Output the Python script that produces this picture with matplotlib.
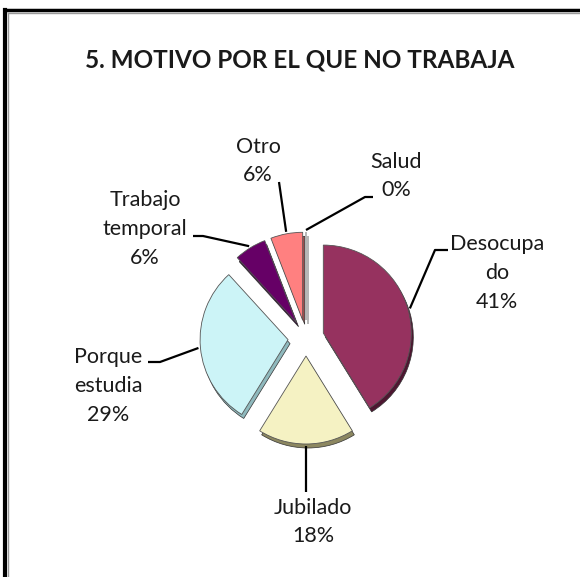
import matplotlib
matplotlib.use("Agg")
import matplotlib.pyplot as plt
import numpy as np

plt.rcParams["font.family"] = ["Lato", "DejaVu Sans"]

W, H = 580, 577

# data (counts: 41%, 18%, 29%, 6%, 6%, 0%)
categories = ["Desocupado", "Jubilado", "Porque estudia", "Trabajo temporal", "Otro", "Salud"]
label_text = ["Desocupa\ndo", "Jubilado", "Porque\nestudia", "Trabajo\ntemporal", "Otro", "Salud"]
counts = [7, 3, 5, 1, 1, 0]

colors = ["#96325f", "#f5f2c3", "#ccf4f7", "#660066", "#ff8080", "#ffffff"]
depth_colors = ["#4e1631", "#8c8760", "#8fb9bd", "#2e002e", "#a84e4e", "#e0e0e0"]

title = "5. MOTIVO POR EL QUE NO TRABAJA"


def img(x, y):
    # image pixel coords (y down) -> axes data coords (y up)
    return x, H - y


# label layout in image pixels: text centre, and leader path from wedge to text
label_pos = [(497, 273), (313, 522), (108, 386), (145, 229), (258, 161), (396, 176)]
leader_pts = [
    [(435, 250), (448, 250)],
    [(306, 492)],
    [(160, 362), (148, 362)],
    [(203, 236), (193, 236)],
    [(279, 182)],
    [(365, 197), (373, 197)],
]

fig = plt.figure(figsize=(W / 100, H / 100), dpi=100)
ax = fig.add_axes([0, 0, 1, 1])

center = img(306, 338)
radius = 88
explode = [18] * len(counts)

# extruded "3D" side of each slice
ax.pie(counts, explode=explode, colors=depth_colors, startangle=90,
       counterclock=False, radius=radius,
       center=(center[0] + 2, center[1] - 4),
       wedgeprops=dict(edgecolor="#333333", linewidth=0.5))
wedges, _ = ax.pie(counts, explode=explode, colors=colors, startangle=90,
                   counterclock=False, radius=radius, center=center,
                   wedgeprops=dict(edgecolor="#555555", linewidth=0.6))

total = sum(counts)
for w, txt, n, pos, pts in zip(wedges, label_text, counts, label_pos, leader_pts):
    tm = np.deg2rad((w.theta1 + w.theta2) / 2)
    ax_x = w.center[0] + (w.r + 2) * np.cos(tm)
    ax_y = w.center[1] + (w.r + 2) * np.sin(tm)
    xs = [ax_x] + [img(*p)[0] for p in pts]
    ys = [ax_y] + [img(*p)[1] for p in pts]
    ax.plot(xs, ys, color="black", linewidth=1.6, solid_capstyle="butt")
    pct = 100 * n / total
    ax.text(*img(*pos), f"{txt}\n{pct:.0f}%", ha="center", va="center",
            fontsize=15.5, linespacing=1.55, color="#1a1a1a")

ax.text(*img(300, 60), title, ha="center", va="center", fontsize=17.5,
        fontweight="bold", color="#1a1a1a")

# chart frame (top and left edges visible)
ax.plot([4.5, W], [H - 10, H - 10], color="black", linewidth=2.5, clip_on=False)
ax.plot([4.5, 4.5], [0, H - 10], color="black", linewidth=3, clip_on=False)
ax.plot([7.5, W], [H - 12.5, H - 12.5], color="#999999", linewidth=1, clip_on=False)
ax.plot([7.5, 7.5], [0, H - 12.5], color="#999999", linewidth=1, clip_on=False)

ax.set_xlim(0, W)
ax.set_ylim(0, H)
ax.set_aspect("equal")
ax.axis("off")

fig.savefig("out.png", dpi=100)
